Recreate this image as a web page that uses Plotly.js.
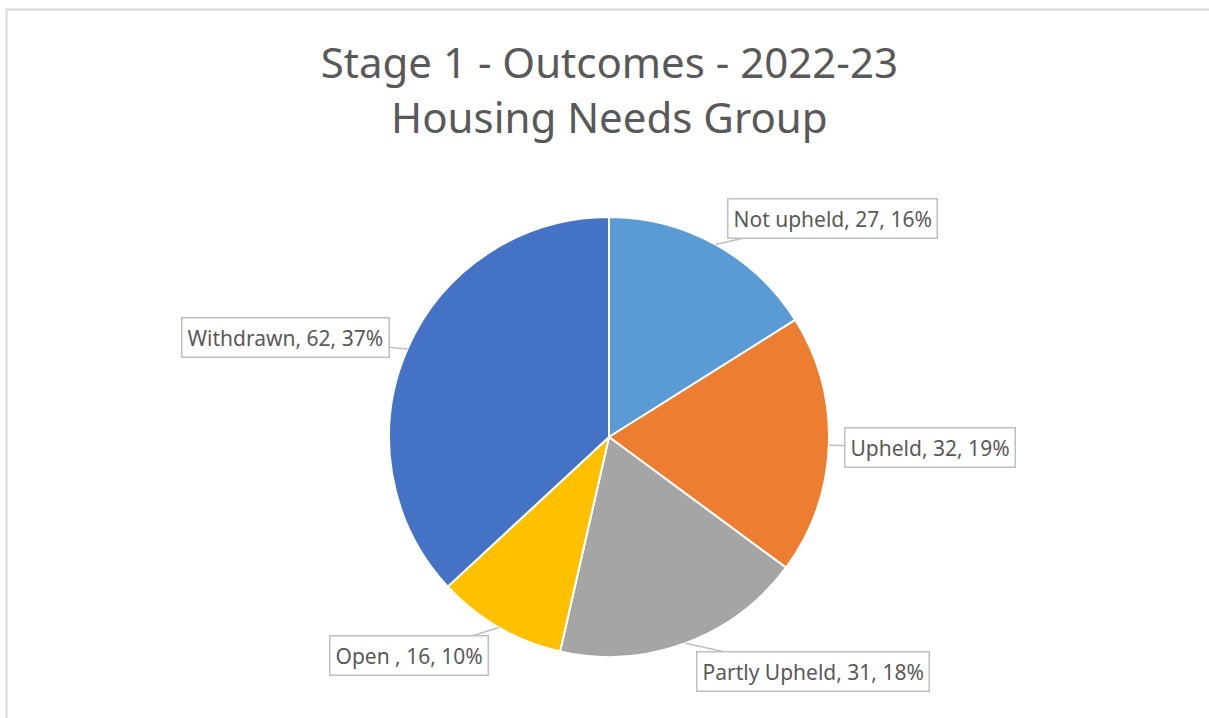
<!DOCTYPE html>
<html>
<head>
<meta charset="utf-8">
<script src="https://cdn.plot.ly/plotly-3.0.1.min.js"></script>
<style>html,body{margin:0;padding:0;background:#fff;}#chart{width:1209px;height:718px;}</style>
</head>
<body>
<div id="chart"></div>
<script>
// ---- data ----
const categories = ["Not upheld", "Upheld", "Partly Upheld", "Open ", "Withdrawn"];
const counts = [27, 32, 31, 16, 62];
const colors = ["#5B9BD5", "#ED7D31", "#A5A5A5", "#FFC000", "#4472C4"];
const titleLines = ["Stage 1 - Outcomes - 2022-23", "Housing Needs Group"];

// ---- layout settings (positions / styles) ----
const W = 1209, H = 718;
const cx = 609, cy = 437, R = 220;               // pie centre & radius (px)
const labelOffsets = [[117, -26], [101, 2], [127, 28], [-90, 28], [-122, -12]];

const total = counts.reduce((a, b) => a + b, 0);
let cum = 0;
const annotations = counts.map((v, i) => {
  const mid = (cum + v / 2) / total; cum += v;
  const ang = mid * 2 * Math.PI;                  // clockwise from 12 o'clock
  const px = cx + R * Math.sin(ang), py = cy - R * Math.cos(ang);
  const pct = Math.round(v / total * 100);
  return {
    x: px / W, y: 1 - py / H, xref: "paper", yref: "paper",
    ax: labelOffsets[i][0], ay: labelOffsets[i][1],
    text: categories[i] + ", " + v + ", " + pct + "%",
    showarrow: true, arrowhead: 0, arrowwidth: 1.5, arrowcolor: "#bfbfbf",
    standoff: 0, startstandoff: 0,
    font: {family: "Noto Sans, sans-serif", size: 21, color: "#595959"},
    bgcolor: "#ffffff", bordercolor: "#bfbfbf", borderwidth: 1.5, borderpad: 5
  };
});

const trace = {
  type: "pie",
  labels: categories,
  values: counts,
  sort: false,
  direction: "clockwise",
  rotation: 0,
  marker: {colors: colors, line: {color: "#ffffff", width: 2}},
  textinfo: "none",
  hoverinfo: "label+value+percent",
  domain: {x: [(cx - R) / W, (cx + R) / W], y: [1 - (cy + R) / H, 1 - (cy - R) / H]}
};

const layout = {
  width: W, height: H,
  margin: {l: 0, r: 0, t: 0, b: 0},
  paper_bgcolor: "#ffffff",
  showlegend: false,
  title: {
    text: titleLines.join("<br>"),
    font: {family: "Noto Sans, sans-serif", size: 42, color: "#595959"},
    x: 0.504, xanchor: "center", y: 1 - 78 / H, yanchor: "middle", yref: "container"
  },
  annotations: annotations,
  shapes: [{
    type: "rect", xref: "paper", yref: "paper",
    x0: 6.5 / W, x1: 1.02, y0: -0.02, y1: 1 - 9.5 / H,
    line: {color: "#d9d9d9", width: 2}, fillcolor: "rgba(0,0,0,0)"
  }]
};

Plotly.newPlot("chart", [trace], layout, {displayModeBar: false, staticPlot: true});
</script>
</body>
</html>
